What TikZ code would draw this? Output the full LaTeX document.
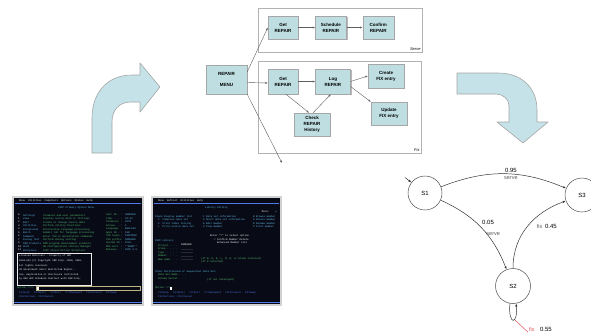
\documentclass[tikz,border=0pt]{standalone}
\usepackage{fontspec}
\setmainfont{Liberation Sans}
\setmonofont{Liberation Mono}
\usetikzlibrary{arrows.meta,positioning,shadows}
\definecolor{boxfill}{RGB}{190,222,226}
\definecolor{arrowfill}{RGB}{196,226,232}
\definecolor{scrbg}{RGB}{8,10,22}
\definecolor{scrgreen}{RGB}{90,200,110}
\definecolor{scrcyan}{RGB}{100,190,235}
\definecolor{scrblue}{RGB}{80,120,230}
\definecolor{scrinput}{RGB}{190,180,130}
\definecolor{fixpink}{RGB}{220,80,90}

\begin{document}
\begin{tikzpicture}[x=1pt,y=-1pt,
	task/.style={rectangle,draw=gray!70,fill=boxfill,inner sep=0pt,align=center,
		minimum width=30pt,minimum height=23pt,font=\fontsize{4.5}{6}\selectfont\bfseries,
		drop shadow={shadow xshift=1.2pt,shadow yshift=-1.2pt,fill=gray!55,opacity=1}},
	frame/.style={rectangle,draw=gray!60,fill=white,inner sep=0pt,
		drop shadow={shadow xshift=1pt,shadow yshift=-1pt,fill=gray!40,opacity=1}},
	framelabel/.style={font=\fontsize{4}{5}\selectfont\itshape,inner sep=1.5pt},
	flow/.style={-{Latex[length=2.5pt,width=2pt]},draw=gray!75!black,line width=0.4pt},
	bigarrow/.style={fill=arrowfill,draw=gray!70,line width=0.6pt,line join=round},
	state/.style={circle,draw=gray!60!black,line width=0.5pt,minimum size=34pt,inner sep=0pt,
		font=\fontsize{6}{7}\selectfont},
	trans/.style={-{Latex[length=3pt,width=2.2pt]},draw=gray!40!black,line width=0.5pt},
	num/.style={font=\fontsize{6}{7}\selectfont,inner sep=1pt},
	lbl/.style={font=\fontsize{5.5}{6}\selectfont,text=gray!70!black,inner sep=1pt},
	scrtxt/.style={anchor=west,inner sep=0pt,align=left,font=\ttfamily\fontsize{2.5}{3.5}\selectfont},
	]
\useasboundingbox (0,0) rectangle (591,333);

% repair flow: frames
\node [frame,minimum width=164pt,minimum height=44pt] (serve) at (340,30) {};
\node [framelabel,anchor=south east] at (serve.south east) {Serve};
\node [frame,minimum width=163pt,minimum height=92pt] (fix) at (339.5,107) {};
\node [framelabel,anchor=south east] at (fix.south east) {Fix};

% repair flow: tasks
\node [task,minimum width=41pt,minimum height=29pt] (menu) at (226.5,79.5) {REPAIR\\[5pt]MENU};
\node [task] (sget) at (283,27.5) {Get\\REPAIR};
\node [task,minimum width=31pt] (ssched) [right=17pt of sget] {Schedule\\REPAIR};
\node [task,minimum width=31pt] (sconf) [right=16pt of ssched] {Confirm\\REPAIR};
\node [task,minimum height=25pt] (fget) at (283,81.5) {Get\\REPAIR};
\node [task,minimum width=35pt,minimum height=25pt] (flog) [right=17pt of fget] {Log\\REPAIR};
\node [task,minimum width=36pt,minimum height=24pt] (fcreate) at (386,76) {Create\\FIX entry};
\node [task,minimum width=36pt] (fupdate) at (389,113.5) {Update\\FIX entry};
\node [task,minimum width=36pt] (fcheck) at (312,124.5) {Check\\REPAIR\\History};
\coordinate (more) at (282,163);
\node [font=\fontsize{3}{4}\selectfont,text=gray,right=2pt of more,inner sep=0pt] {...};

% flow connectors
\draw [flow] ([yshift=7.5pt]menu.east) -- (sget.west);
\draw [flow] ([yshift=-3pt]menu.east) -- ([yshift=-1.5pt]fget.west);
\draw [flow] (menu.south east) -- (more);
\draw [flow] (sget) -- (ssched);
\draw [flow] (ssched) -- (sconf);
\draw [flow] (fget) -- (flog);
\draw [flow] (flog.east) -- (fcreate.west);
\draw [flow] ([yshift=-5pt]flog.east) -- (fupdate.north west);
\draw [flow] ([xshift=3pt]fget.south) -- ([xshift=-3pt]fcheck.north);
\draw [flow] ([xshift=1pt]fcheck.north) -- ([xshift=-2pt]flog.south);

% curved block arrows
\draw [bigarrow] (92,153) -- (92,118) .. controls (92,92) and (108,75) .. (132,75) -- (140,75)
	-- (140,63) -- (160,87) -- (140,112) -- (140,102) -- (131,102)
	.. controls (119,102) and (112,110) .. (112,122) -- (112,153) -- cycle;
\draw [bigarrow] (457,73) -- (498,73) .. controls (522,73) and (537,88) .. (537,110) -- (537,122)
	-- (548,122) -- (523,143) -- (497,122) -- (509,122) -- (509,106)
	.. controls (509,99) and (503,94) .. (496,94) -- (457,94) -- cycle;

% state machine
\node [state] (s1) at (425,193) {S1};
\node [state] (s3) at (582,195) {S3};
\node [state,minimum size=35pt] (s2) at (513,286) {S2};
\coordinate (s1in) at (405,177.5);
\draw [trans] (s1in) -- (s1);
\draw [trans] (s1) to[bend left=22] node[num,pos=0.56,above] {0.95} node[lbl,pos=0.56,below=1pt] {serve} (s3);
\draw [trans] (s1) to[bend left=22] node[num,pos=0.42,right=5pt] {0.05} node[lbl,pos=0.6,right=-2pt] {serve} (s2);
\draw [trans] (s2) to[out=90,in=200] node[pos=0.5,right=9pt,inner sep=0pt] {\fontsize{5.5}{6}\selectfont\color{gray!70!black}fix\enspace\fontsize{6}{7}\selectfont\color{black}0.45} (s3);
\draw [trans] (s2.-100) .. controls +(-2,22) and +(2,22) .. (s2.-80);
\coordinate (loopend) at (515,320);
\node [lbl,text=fixpink,anchor=west] (fixlbl) at (528,329) {fix};
\node [num,right=3pt of fixlbl] {0.55};
\draw [fixpink,line width=0.5pt] (loopend) -- (fixlbl.south west);

% terminal screens
\fill [gray!35] (12,196) rectangle (144,306);
\fill [scrbg] (14,198) rectangle (142,304);
\fill [gray!35] (151,196) rectangle (282,306);
\fill [scrbg] (153,198) rectangle (280,304);

% left screen: primary option menu
\node [scrtxt,text=white] at (19,200.5) {Menu\ \ Utilities\ \ Compilers\ \ Options\ \ Status\ \ Help};
\draw [scrblue,line width=0.3pt] (15,203) -- (141,203);
\node [scrtxt,text=scrcyan] at (58,207.5) {ISPF Primary Option Menu};
\node [scrtxt,text=white,anchor=north west] at (18,214) {0\\1\\2\\3\\4\\5\\6\\7\\9\\10\\11};
\node [scrtxt,text=scrcyan,anchor=north west] at (23,214) {Settings\\View\\Edit\\Utilities\\Foreground\\Batch\\Command\\Dialog Test\\IBM Products\\SCLM\\Workplace};
\node [scrtxt,text=scrgreen,anchor=north west] at (43,214) {Terminal and user parameters\\Display source data or listings\\Create or change source data\\Perform utility functions\\Interactive language processing\\Submit job for language processing\\Enter TSO or Workstation commands\\Perform dialog testing\\IBM program development products\\SW Configuration Library Manager\\ISPF Object/Action Workplace};
\node [scrtxt,text=scrgreen,anchor=north west] at (106,214) {User ID . :\\Time. . . :\\Terminal. :\\Screen. . :\\Language. :\\Appl ID . :\\TSO logon :\\TSO prefix:\\System ID :\\MVS acct. :\\Release . :};
\node [scrtxt,text=scrcyan,anchor=north west] at (125,214) {IBMUSER\\10:34\\3278\\1\\ENGLISH\\ISR\\ISPFPROC\\IBMUSER\\SYS1\\**NONE**\\ISPF 6.0};
\draw [white!85!gray,line width=0.3pt] (17,253) rectangle (91,285);
\node [scrtxt,text=white,anchor=north west,font=\ttfamily\fontsize{2.4}{4.6}\selectfont] at (19,255) {Licensed Materials - Property of IBM\\5694-A01 (C) Copyright IBM Corp. 1980, 2009.\\All rights reserved.\\US Government Users Restricted Rights -\\Use, duplication or disclosure restricted\\by GSA ADP Schedule Contract with IBM Corp.};
\node [scrtxt,text=scrgreen] at (17,288) {Option ===>};
\draw [scrinput,line width=0.35pt] (36,286) rectangle (140,290);
\fill [white] (37,286.5) rectangle (38.5,289.5);
\node [scrtxt,text=scrblue] at (19,292.5) {F1=Help\ \ \ F2=Split\ \ \ F3=Exit\ \ \ F7=Backward\ \ \ F8=Forward\ \ \ F9=Swap};
\node [scrtxt,text=scrblue] at (19,296.5) {F10=Actions\ \ F12=Cancel};
\draw [scrblue,line width=1pt] (14,302) -- (142,302);

% right screen: library utility
\node [scrtxt,text=white] at (158,200.5) {Menu\ \ RefList\ \ Utilities\ \ Help};
\draw [scrblue,line width=0.3pt] (154,203) -- (279,203);
\node [scrtxt,text=scrcyan] at (205,207.5) {Library Utility};
\node [scrtxt,text=white,anchor=east] at (277,212) {More:\ \ \ \ +};
\node [scrtxt,text=scrcyan,anchor=north west] at (155,215) {blank\ Display member list\\\ \ C\ \ Compress data set\\\ \ X\ \ Print index listing\\\ \ L\ \ Print entire data set};
\node [scrtxt,text=scrcyan,anchor=north west] at (203,215) {I\ Data set information\\S\ Short data set information\\E\ Edit member\\V\ View member};
\node [scrtxt,text=scrcyan,anchor=north west] at (253,215) {B\ Browse member\\D\ Delete member\\R\ Rename member\\P\ Print member};
\node [scrtxt,text=white] at (210,235.5) {Enter "/" to select option};
\node [scrtxt,text=white,anchor=north west] at (214,238) {/\ Confirm Member Delete\\\ \ Enhanced Member List};
\node [scrtxt,text=scrcyan] at (155,241) {ISPF Library:};
\node [scrtxt,text=scrgreen,anchor=north west] at (158,244) {Project . . .\\Group\ . . . .\\Type\ \ . . . .\\Member\ \ . . .\\New name\ \ . .};
\node [scrtxt,text=white,anchor=north west] at (181,244) {IBMUSER\\\_\_\_\_\_\_\_\_\\\_\_\_\_\_\_\_\_\\\_\_\_\_\_\_\_\_\\\_\_\_\_\_\_\_\_};
\node [scrtxt,text=scrgreen,anchor=north west] at (201,257) {(If B, D, E, L, M, R, or blank selected)\\(If R selected)};
\node [scrtxt,text=scrcyan] at (155,271.5) {Other Partitioned or Sequential Data Set:};
\node [scrtxt,text=scrgreen,anchor=north west] at (158,274) {Data Set Name . . .\\Volume Serial . . .};
\node [scrtxt,text=scrgreen] at (207,279.5) {(If not cataloged)};
\node [scrtxt,text=scrgreen] at (155,288) {Option ===>};
\fill [white] (170,286.5) rectangle (171.5,289.5);
\node [scrtxt,text=scrblue] at (158,292.5) {F1=Help\ \ \ F2=Split\ \ \ F3=Exit\ \ \ F7=Backward\ \ \ F8=Forward\ \ \ F9=Swap};
\node [scrtxt,text=scrblue] at (158,296.5) {F10=Actions\ \ F12=Cancel};
\draw [scrblue,line width=1pt] (153,302) -- (280,302);
\end{tikzpicture}
\end{document}
